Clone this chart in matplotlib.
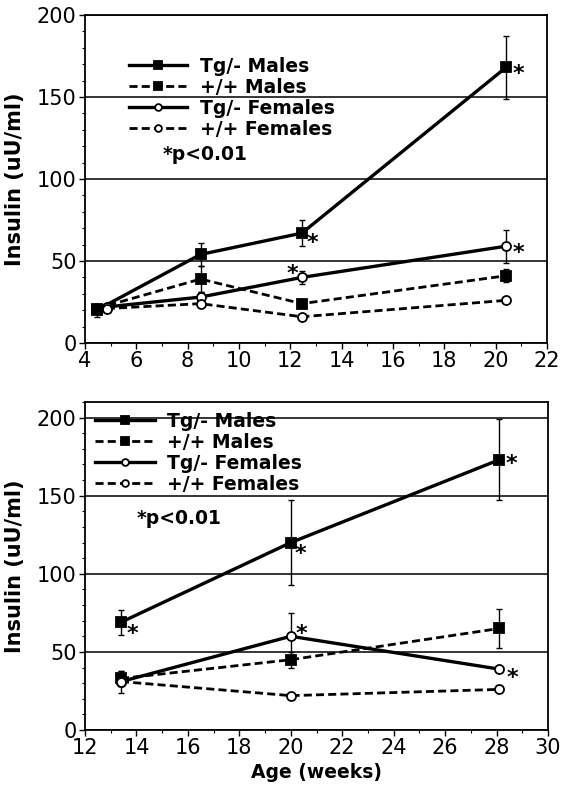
import matplotlib
matplotlib.use("Agg")
import matplotlib.pyplot as plt
from matplotlib.ticker import MultipleLocator

plt.rcParams["font.family"] = ["DejaVu Sans"]

series_names = ["Tg/- Males", "+/+ Males", "Tg/- Females", "+/+ Females"]

# ---- top panel data ----
top_x_males = [4.45, 8.5, 12.45, 20.4]
top_x_females = [4.85, 8.5, 12.45, 20.4]
top_tg_males = [20, 54, 67, 168]
top_tg_males_err = [4, 7, 8, 19]
top_wt_males = [21, 39, 24, 41]
top_wt_males_err = [3, 8, 2, 4]
top_tg_females = [22, 28, 40, 59]
top_tg_females_err = [2, 3, 4, 10]
top_wt_females = [21, 24, 16, 26]
top_wt_females_err = [1, 1, 1, 1]

# ---- bottom panel data ----
bot_x = [13.4, 20.0, 28.1]
bot_tg_males = [69, 120, 173]
bot_tg_males_err = [8, 27, 26]
bot_wt_males = [33, 45, 65]
bot_wt_males_err = [5, 5, 12.5]
bot_tg_females = [31, 60, 39]
bot_tg_females_err = [7, 15, 2]
bot_wt_females = [31, 22, 26]
bot_wt_females_err = [2, 1, 1]

top_xticks = [4, 6, 8, 10, 12, 14, 16, 18, 20, 22]
bot_xticks = [12, 14, 16, 18, 20, 22, 24, 26, 28, 30]
yticks = [0, 50, 100, 150, 200]

# significance stars: (series index, point index, dx px, dy px)
top_stars = [(0, 2, 11, -5), (0, 3, 12, -2), (2, 3, 12, -2), (2, 2, -9, 8)]
bot_stars = [(0, 0, 11, -7), (0, 1, 10, -7), (2, 1, 11, 7), (0, 2, 12, 0), (2, 2, 13, -4)]

PX = 72 / 100.0  # points per pixel

styles = [
    dict(ls="-", marker="s", mfc="black", ms=7, lw=2.4),
    dict(ls="--", marker="s", mfc="black", ms=7, lw=2.0),
    dict(ls="-", marker="o", mfc="white", ms=6.5, lw=2.4),
    dict(ls="--", marker="o", mfc="white", ms=6.5, lw=2.0),
]

fig = plt.figure(figsize=(5.65, 7.89), dpi=100)
ax1 = fig.add_axes([85 / 565, 1 - 343 / 789, 462 / 565, 328 / 789])
ax2 = fig.add_axes([85 / 565, 1 - 730 / 789, 463 / 565, 328 / 789])


def draw(ax, xs_list, ys_list, errs_list):
    handles = []
    for i, (xs, ys, es) in enumerate(zip(xs_list, ys_list, errs_list)):
        st = styles[i]
        ax.errorbar(xs, ys, yerr=es, fmt="none", ecolor="black", elinewidth=1.0,
                    capsize=2.5, capthick=1.0, zorder=3)
        line, = ax.plot(xs, ys, color="black", linestyle=st["ls"], lw=st["lw"],
                        marker=st["marker"], mfc=st["mfc"], mec="black", mew=1.3,
                        ms=st["ms"], zorder=4)
        if st["ls"] == "--":
            line.set_dashes((2.9, 1.5))
        handles.append(line)
    return handles


def stars(ax, stars_list, xs_list, ys_list):
    for s, k, dx, dy in stars_list:
        ax.annotate("*", xy=(xs_list[s][k], ys_list[s][k]),
                    xytext=(dx * PX, dy * PX - 7.5), textcoords="offset points",
                    ha="center", va="baseline", fontsize=16, fontweight="bold",
                    zorder=5)


def style_axes(ax, xlim, xticks, ylim):
    ax.set_xlim(*xlim)
    ax.set_ylim(*ylim)
    ax.set_xticks(xticks)
    ax.set_yticks(yticks)
    ax.xaxis.set_minor_locator(MultipleLocator(1))
    ax.yaxis.set_minor_locator(MultipleLocator(10))
    ax.tick_params(which="major", direction="out", length=4, width=1.0,
                   labelsize=15, pad=2)
    ax.tick_params(which="minor", direction="out", length=2, width=0.8)
    ax.yaxis.grid(True, color="black", lw=1.1)
    ax.set_axisbelow(True)
    for sp in ax.spines.values():
        sp.set_linewidth(1.3)
    ax.set_ylabel("Insulin (uU/ml)", fontsize=15, fontweight="bold")
    ax.yaxis.set_label_coords(-0.13, 0.5)


top_xs = [top_x_males, top_x_males, top_x_females, top_x_females]
top_ys = [top_tg_males, top_wt_males, top_tg_females, top_wt_females]
top_es = [top_tg_males_err, top_wt_males_err, top_tg_females_err, top_wt_females_err]
h1 = draw(ax1, top_xs, top_ys, top_es)
stars(ax1, top_stars, top_xs, top_ys)
style_axes(ax1, (4, 22), top_xticks, (0, 200))

bot_xs = [bot_x] * 4
bot_ys = [bot_tg_males, bot_wt_males, bot_tg_females, bot_wt_females]
bot_es = [bot_tg_males_err, bot_wt_males_err, bot_tg_females_err, bot_wt_females_err]
h2 = draw(ax2, bot_xs, bot_ys, bot_es)
stars(ax2, bot_stars, bot_xs, bot_ys)
style_axes(ax2, (12, 30), bot_xticks, (0, 210))
ax2.set_xlabel("Age (weeks)", fontsize=13.5, fontweight="bold", labelpad=3)

leg_prop = {"weight": "bold", "size": 13.5}
leg1 = ax1.legend(h1, series_names, loc="upper left",
                  bbox_to_anchor=(129 / 565, 1 - 57 / 789),
                  bbox_transform=fig.transFigure, frameon=False, prop=leg_prop,
                  handlelength=3.1, handletextpad=0.7, labelspacing=0.1,
                  borderpad=0, borderaxespad=0, markerscale=0.75)
leg2 = ax2.legend(h2, series_names, loc="upper left",
                  bbox_to_anchor=(95 / 565, 1 - 412 / 789),
                  bbox_transform=fig.transFigure, frameon=False, prop=leg_prop,
                  handlelength=3.2, handletextpad=0.64, labelspacing=0.1,
                  borderpad=0, borderaxespad=0, markerscale=0.75)

fig.text(163 / 565, 1 - 155 / 789, "*p<0.01", fontsize=13.5, fontweight="bold",
         ha="left", va="center")
fig.text(137 / 565, 1 - 519 / 789, "*p<0.01", fontsize=13.5, fontweight="bold",
         ha="left", va="center")

fig.savefig("out.png", dpi=100)
